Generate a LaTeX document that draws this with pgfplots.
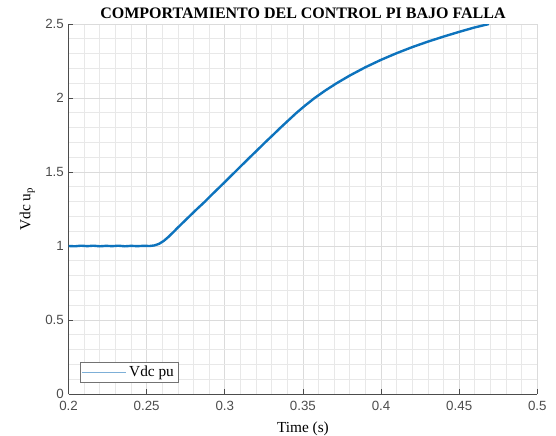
\documentclass[border=0pt]{standalone}
\usepackage{fontspec}
\setmainfont{Liberation Serif}
\newfontfamily\ticksans{Liberation Sans}
\usepackage{pgfplots}
\pgfplotsset{compat=1.18}
\definecolor{mblue}{rgb}{0.05,0.45,0.74}
\definecolor{legblue}{RGB}{125,175,215}
\definecolor{axgray}{gray}{0.3}

\begin{document}
\begin{tikzpicture}
\begin{axis}[
    scale only axis,
    width=351.6pt, height=277.5pt,
    xmin=0.2, xmax=0.5, ymin=0, ymax=2.5,
    xtick={0.2,0.25,0.3,0.35,0.4,0.45,0.5},
    ytick={0,0.5,1,1.5,2,2.5},
    minor x tick num=4, minor y tick num=4,
    grid=both,
    major grid style={black!14, line width=0.5pt},
    minor grid style={black!9, line width=0.5pt},
    axis x line*=bottom, axis y line*=left,
    axis line style={axgray, line width=0.6pt, -},
    tick align=inside,
    major tick length=3.5pt, minor tick length=0pt,
    tick style={axgray, line width=0.6pt},
    /pgf/number format/assume math mode=true,
    ticklabel style={font=\ticksans\fontsize{10}{12}\selectfont, text=axgray},
    xticklabel style={yshift=-2pt},
    title={\bfseries COMPORTAMIENTO DEL CONTROL PI BAJO FALLA},
    title style={font=\fontsize{12}{14}\selectfont, at={(0.5,1)}, anchor=south, yshift=-5.5pt},
    xlabel={Time (s)},
    xlabel style={font=\fontsize{11.5}{13}\selectfont, at={(0.5,-0.095)}, anchor=center},
    ylabel={Vdc u\textsubscript{p}},
    ylabel style={font=\fontsize{11.5}{13}\selectfont, at={(-0.088,0.5)}, anchor=center},
    legend style={at={(0,0)}, anchor=south west, xshift=8.6pt, yshift=8.25pt,
        draw=black!55, line width=0.6pt, font=\fontsize{11.5}{13}\selectfont,
        inner sep=1pt, cells={anchor=west}},
    legend image code/.code={\draw[legblue, line width=0.6pt] (0pt,0pt) -- (33pt,0pt);},
]
\addplot[mblue, line width=1.8pt] coordinates {
(0.2000,1.000) (0.2040,0.998) (0.2080,1.002) (0.2120,0.999) (0.2160,1.002)
(0.2200,0.998) (0.2240,1.001) (0.2280,0.999) (0.2320,1.002) (0.2360,0.998)
(0.2400,1.001) (0.2440,0.999) (0.2480,1.001) (0.2520,1.000) (0.2550,1.004)
(0.2580,1.015) (0.2610,1.035) (0.2640,1.062) (0.2670,1.093) (0.2700,1.125)
(0.2735,1.161) (0.2773,1.200) (0.2820,1.248) (0.2873,1.300) (0.2920,1.350)
(0.2969,1.400) (0.3020,1.453) (0.3065,1.500) (0.3110,1.547) (0.3161,1.600)
(0.3210,1.650) (0.3258,1.700) (0.3310,1.752) (0.3357,1.800) (0.3410,1.852)
(0.3459,1.900) (0.3515,1.950) (0.3575,2.000) (0.3645,2.052) (0.3716,2.100)
(0.3800,2.152) (0.3900,2.208) (0.4000,2.258) (0.4100,2.303) (0.4200,2.344)
(0.4300,2.381) (0.4400,2.415) (0.4500,2.447) (0.4600,2.477) (0.4690,2.500)
};
\addlegendentry{Vdc pu}
\end{axis}
\pgfresetboundingbox
\path[use as bounding box] ([shift={(-51.4pt,-30.75pt)}]current axis.south west)
    rectangle ([shift={(14pt,18pt)}]current axis.north east);
\end{tikzpicture}
\end{document}
